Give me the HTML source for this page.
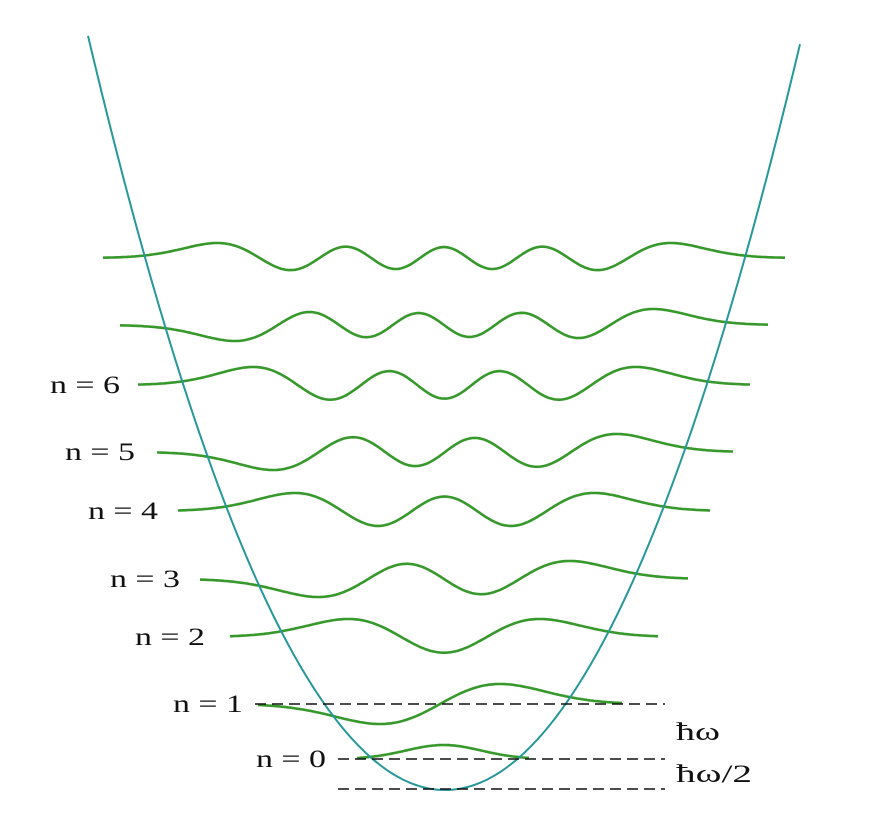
<!DOCTYPE html>
<html><head><meta charset="utf-8"><style>
html,body{margin:0;padding:0;background:#fff;}
svg{display:block;}
text{font-family:"Liberation Serif",serif;font-size:25px;fill:#111;}
</style></head><body>
<svg id="chart" width="875" height="825" viewBox="0 0 875 825" xmlns="http://www.w3.org/2000/svg">
<g id="waves"></g>
<path id="parabola" fill="none" stroke="#26979a" stroke-width="2"/>
<g stroke="#111" stroke-width="1.6" stroke-dasharray="11,6">
<line x1="255" y1="704" x2="665" y2="704"/>
<line x1="338" y1="759" x2="665" y2="759"/>
<line x1="338" y1="789" x2="665" y2="789"/>
</g>
<text x="676" y="740" textLength="44" lengthAdjust="spacingAndGlyphs">ħω</text>
<text x="676" y="782" textLength="76" lengthAdjust="spacingAndGlyphs">ħω/2</text>
<g id="labels"></g>
</svg>
<script>
const levels=[0,1,2,3,4,5,6,7,8];
const baselines=[759,704,637,579,511,452,385,325,258];
const leftX=[357,258,230,200,178,157,138,120,103];
const rightX=[530,622,658,688,711,733,751,768,785];
const amplitudes=[14,20,18,18,18,18,18,16,15];
const labelNames=["n = 0","n = 1","n = 2","n = 3","n = 4","n = 5","n = 6"];
const labelX=[256,173,135,110,88,65,50];
const vertexX=445, vertexY=790, edgeHalf=356, edgeY=40;
const NS="http://www.w3.org/2000/svg";
const k=(vertexY-edgeY)/(edgeHalf*edgeHalf);
let d="";
for(let x=88;x<=801;x+=2){const y=vertexY-k*(x-vertexX)**2;d+=(x===88?"M":"L")+x+","+y.toFixed(1);}
document.getElementById('parabola').setAttribute('d',d);
function psi(n,xi){let h0=1,h1=2*xi;if(n===0)return Math.exp(-xi*xi/2);
  for(let i=1;i<n;i++){const h2=2*xi*h1-2*i*h0;h0=h1;h1=h2;}return h1*Math.exp(-xi*xi/2);}
const wg=document.getElementById('waves');
levels.forEach((n,i)=>{
  const c=(leftX[i]+rightX[i])/2, half=(rightX[i]-leftX[i])/2;
  const s=half/(Math.sqrt(2*n+1)+1.3);
  let mx=0;const pts=[];
  for(let x=leftX[i];x<=rightX[i];x+=2){const v=psi(n,(x-c)/s);pts.push([x,v]);mx=Math.max(mx,Math.abs(v));}
  let p="";pts.forEach((q,j)=>{p+=(j?"L":"M")+q[0]+","+(baselines[i]-q[1]/mx*amplitudes[i]).toFixed(1);});
  const el=document.createElementNS(NS,'path');
  el.setAttribute('d',p);el.setAttribute('fill','none');el.setAttribute('stroke','#37982b');el.setAttribute('stroke-width','2.6');
  
  
  wg.appendChild(el);
});
const lg=document.getElementById('labels');
labelNames.forEach((t,i)=>{
  const el=document.createElementNS(NS,'text');
  el.setAttribute('x',labelX[i]);el.setAttribute('y',baselines[i]+8);el.textContent=t;
  el.setAttribute('textLength','70');el.setAttribute('lengthAdjust','spacingAndGlyphs');
  
  
  lg.appendChild(el);
});
</script>
</body></html>
